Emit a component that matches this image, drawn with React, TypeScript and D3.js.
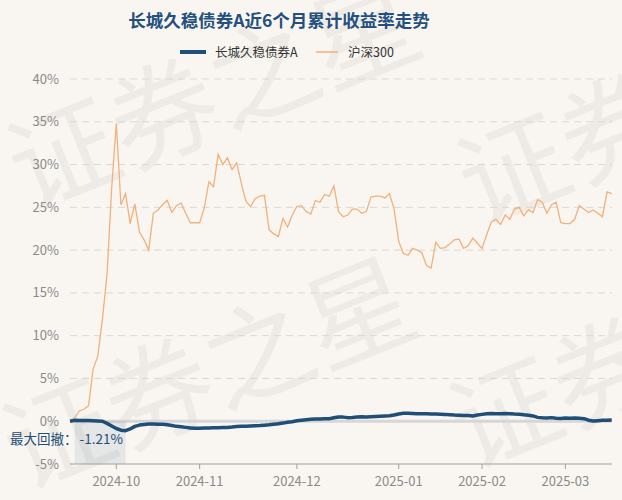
import React from "react";
import * as d3 from "d3";

const fundName = "长城久稳债券A";
const indexName = "沪深300";
const titleText = "长城久稳债券A近6个月累计收益率走势";

// cumulative return (%) of the fund, one value per trading day
const fundValues = [
  0, 0.1, 0.09, 0.08, 0.07, 0.06, 0.04, 0.0, -0.25, -0.55,
  -0.85, -1.05, -1.11, -0.9, -0.6, -0.45, -0.38, -0.33, -0.32, -0.34,
  -0.36, -0.42, -0.5, -0.6, -0.65, -0.72, -0.78, -0.83, -0.82, -0.8,
  -0.78, -0.76, -0.77, -0.74, -0.72, -0.68, -0.62, -0.6, -0.58, -0.55,
  -0.52, -0.5, -0.46, -0.42, -0.36, -0.3, -0.22, -0.12, -0.06, 0.05,
  0.12, 0.18, 0.24, 0.25, 0.26, 0.28, 0.3, 0.4, 0.5, 0.48,
  0.42, 0.44, 0.5, 0.52, 0.48, 0.52, 0.55, 0.58, 0.62, 0.64,
  0.72, 0.85, 0.92, 0.93, 0.9, 0.88, 0.88, 0.86, 0.84, 0.83,
  0.82, 0.8, 0.76, 0.72, 0.7, 0.68, 0.66, 0.62, 0.72, 0.8,
  0.88, 0.9, 0.88, 0.87, 0.9, 0.88, 0.84, 0.82, 0.75, 0.7,
  0.62, 0.45, 0.4, 0.38, 0.42, 0.36, 0.32, 0.38, 0.36, 0.38,
  0.36, 0.3, 0.12, 0.02, 0.06, 0.1, 0.12, 0.14,
];

// cumulative return (%) of CSI 300
const indexValues = [
  0, 0.4, 1.2, 1.4, 1.8, 6.1, 7.6, 11.9, 17.2, 27.2,
  34.8, 25.3, 26.6, 23.1, 25.4, 22.1, 21.2, 20.0, 24.3, 24.7,
  25.3, 25.8, 24.4, 25.2, 25.5, 24.3, 23.2, 23.2, 23.2, 24.9,
  28.0, 27.4, 31.2, 30.0, 30.8, 29.4, 30.2, 27.8, 25.7, 25.1,
  26.0, 26.3, 26.4, 22.4, 21.9, 21.6, 23.7, 22.7, 24.1, 25.1,
  25.2, 24.5, 24.2, 25.8, 25.6, 26.5, 26.3, 27.5, 24.5, 23.9,
  24.1, 24.8, 24.8, 24.3, 24.5, 26.2, 26.3, 26.3, 26.1, 26.6,
  24.8, 21.0, 19.6, 19.4, 20.2, 20.0, 19.7, 18.2, 17.9, 20.9,
  20.2, 20.3, 20.7, 21.2, 21.3, 20.2, 20.5, 21.4, 20.8, 20.2,
  21.8, 23.3, 23.6, 23.0, 24.1, 23.6, 24.8, 25.0, 24.0, 24.7,
  24.4, 25.9, 25.6, 24.3, 25.3, 25.6, 23.2, 23.1, 23.1, 23.6,
  25.2, 24.8, 24.4, 24.7, 24.3, 23.9, 26.8, 26.6,
];

// x-axis: trading-day index of the first trading day of each month
const xTickIndex = [10, 28, 49, 71, 89, 107];
const xTickLabels = ["2024-10", "2024-11", "2024-12", "2025-01", "2025-02", "2025-03"];

const yTicks = [-5, 0, 5, 10, 15, 20, 25, 30, 35, 40];

// max drawdown: peak index, trough index, value
const drawdownStart = 1;
const drawdownEnd = 12;
const drawdownLabel = "最大回撤：";
const drawdownValue = "-1.21%";

const watermarkText = "证券之星";

const W = 622;
const H = 500;
const left = 70;
const right = 612;
const top = 79;
const bottom = 464;
const FONT = "'Noto Sans CJK SC', 'Noto Sans', sans-serif";

export default function App() {
  const n = indexValues.length;
  const x = d3.scaleLinear().domain([0, n - 1]).range([left, 611.7]);
  const y = d3.scaleLinear().domain([-5, 40]).range([bottom, top]);

  const line = d3
    .line<number>()
    .x((_, i) => x(i))
    .y((d) => y(d));

  const watermarks = [
    [28, 211],
    [23, 491],
    [478, 226],
    [470, 470],
  ];

  return (
    <div style={{ position: "fixed", left: 0, top: 0 }}>
      <svg width={W} height={H} style={{ display: "block", fontFamily: FONT }}>
        <rect x={0} y={0} width={W} height={H} fill="#f9f6f1" />
        <g>
          {watermarks.map(([wx, wy], k) => (
            <text
              key={k}
              x={wx}
              y={wy}
              fontSize={108}
              fill="#000"
              opacity={0.04}
              transform={`rotate(-22 ${wx} ${wy})`}
            >
              {watermarkText}
            </text>
          ))}
        </g>
        <text x={279} y={27} textAnchor="middle" fontSize={17.5} fontWeight="bold" fill="#23507f">
          {titleText}
        </text>
        {/* legend */}
        <line x1={180} x2={206} y1={52} y2={52} stroke="#1f4e79" strokeWidth={4} />
        <text x={215} y={56.5} fontSize={12.5} fill="#333">
          {fundName}
        </text>
        <line x1={316} x2={338} y1={52} y2={52} stroke="#f2b07a" strokeWidth={1.5} />
        <text x={348} y={56.5} fontSize={12.5} fill="#333">
          {indexName}
        </text>

        {/* grid */}
        {yTicks.map((t) => (
          <g key={t}>
            {t !== 0 && t !== -5 && (
              <line
                x1={left}
                x2={right}
                y1={y(t)}
                y2={y(t)}
                stroke="#d8d8d8"
                strokeWidth={1}
                strokeDasharray="7,5"
              />
            )}
            <text x={59} y={y(t) + 4.5} textAnchor="end" fontSize={13} fill="#8a8a8a">
              {`${t}%`}
            </text>
          </g>
        ))}
        <line x1={left} x2={right} y1={y(0)} y2={y(0)} stroke="#d6d6d6" strokeWidth={3} />

        {/* drawdown region */}
        <rect
          x={x(drawdownStart)}
          y={y(0)}
          width={x(drawdownEnd) - x(drawdownStart)}
          height={y(-5) - y(0)}
          fill="#1f4e79"
          opacity={0.09}
        />

        {/* x axis */}
        <line x1={left} x2={right} y1={bottom} y2={bottom} stroke="#a0a0a0" strokeWidth={1} />
        {xTickIndex.map((ti, k) => (
          <g key={ti}>
            <line x1={x(ti)} x2={x(ti)} y1={bottom} y2={bottom + 5} stroke="#a0a0a0" />
            <text x={x(ti)} y={486} textAnchor="middle" fontSize={13} fill="#8a8a8a">
              {xTickLabels[k]}
            </text>
          </g>
        ))}

        <path d={line(indexValues) || ""} fill="none" stroke="#f2b07a" strokeWidth={1.3} />
        <path
          d={line(fundValues) || ""}
          fill="none"
          stroke="#1f4e79"
          strokeWidth={3.5}
          strokeLinejoin="round"
        />

        <text x={10} y={444} fontSize={13.5} fill="#1f4e79">
          {drawdownLabel}
          <tspan dx={2}>{drawdownValue}</tspan>
        </text>
      </svg>
    </div>
  );
}
